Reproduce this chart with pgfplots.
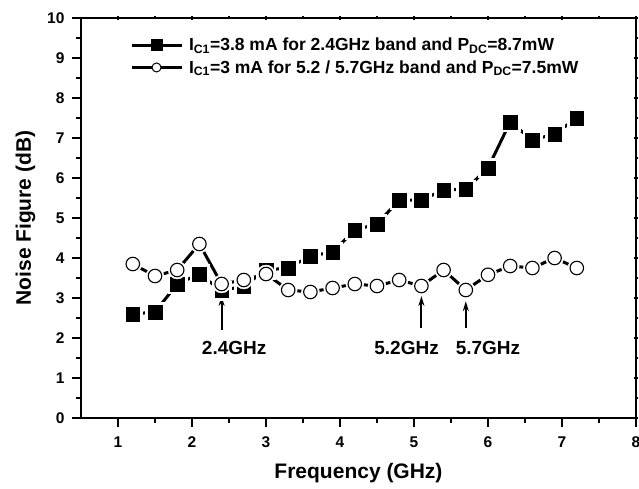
\documentclass[border=0pt]{standalone}
\usepackage{pgfplots}
\pgfplotsset{compat=1.18}
\usepackage{pgfplotstable}
\usepackage{fontspec}
\setmainfont{Liberation Sans}
\usetikzlibrary{arrows.meta}
\pgfplotstableread{
x y
1.2 2.60
1.5 2.65
1.8 3.35
2.1 3.60
2.4 3.18
2.7 3.30
3.0 3.70
3.3 3.75
3.6 4.05
3.9 4.15
4.2 4.70
4.5 4.85
4.8 5.45
5.1 5.45
5.4 5.70
5.7 5.72
6.0 6.25
6.3 7.40
6.6 6.95
6.9 7.10
7.2 7.50
}\sqdata
\pgfplotstableread{
x y
1.2 3.85
1.5 3.55
1.8 3.70
2.1 4.35
2.4 3.35
2.7 3.45
3.0 3.60
3.3 3.20
3.6 3.15
3.9 3.25
4.2 3.35
4.5 3.30
4.8 3.45
5.1 3.30
5.4 3.70
5.7 3.20
6.0 3.58
6.3 3.80
6.6 3.75
6.9 4.00
7.2 3.75
}\cidata
\begin{document}
\begin{tikzpicture}
\begin{axis}[name=ax,
  scale only axis, width=555pt, height=400pt,
  xmin=0.5, xmax=8, ymin=0, ymax=10,
  xtick={1,2,3,4,5,6,7,8}, ytick={0,1,2,3,4,5,6,7,8,9,10},
  minor x tick num=1, minor y tick num=1,
  xtick pos=left, ytick pos=left,
  tick align=outside,
  major tick length=9pt, minor tick length=5pt,
  axis line style={line width=2.4pt},
  every tick/.style={black, line width=2.4pt},
  /pgf/number format/assume math mode=true,
  tick label style={font=\bfseries\fontsize{15.5}{15.5}\selectfont},
  xticklabel style={yshift=-6pt},
  yticklabel style={xshift=-4pt},
  xlabel={\bfseries Frequency (GHz)},
  ylabel={\bfseries Noise Figure (dB)},
  label style={font=\bfseries\fontsize{21}{21}\selectfont},
  xlabel style={yshift=-9pt},
  ylabel style={yshift=5pt},
  legend style={draw=none, fill=none, at={(rel axis cs:0.088,0.955)}, anchor=north west,
    font=\bfseries\fontsize{17.5}{21}\selectfont, row sep=4pt, inner sep=0pt,
    nodes={inner xsep=6pt}},
  legend image code/.code={\draw[mark repeat=2, mark phase=2, #1] plot coordinates {(0pt,0pt) (25pt,0pt) (50pt,0pt)};},
  legend cell align=left,
  clip=false,
]
\addlegendimage{black, line width=3pt, mark=square*, mark size=4.5pt, mark options={solid}}
\addlegendentry{I\textsubscript{C1}=3.8 mA for 2.4GHz band and P\textsubscript{DC}=8.7mW}
\addlegendimage{black, line width=3pt, mark=*, mark size=4.5pt, mark options={solid, fill=white, line width=1pt}}
\addlegendentry{I\textsubscript{C1}=3 mA for 5.2 / 5.7GHz band and P\textsubscript{DC}=7.5mW}
% squares
\addplot[black, line width=3pt, forget plot] table {\sqdata};
\addplot[only marks, mark=square*, mark size=9.5pt, white, forget plot] table {\sqdata};
\addplot[only marks, mark=square*, mark size=6.75pt, black, forget plot] table {\sqdata};
% circles
\addplot[black, line width=3pt, forget plot] table {\cidata};
\addplot[only marks, mark=*, mark size=9pt, white, forget plot] table {\cidata};
\addplot[only marks, mark=*, mark size=6.75pt, mark options={draw=black, fill=white, line width=1.1pt}, forget plot] table {\cidata};
% annotations
\draw[line width=2pt, -{Stealth[length=10pt, width=6pt]}] (axis cs:2.4,2.2) -- (axis cs:2.4,3.05);
\draw[line width=2pt, -{Stealth[length=10pt, width=6pt]}] (axis cs:5.1,2.25) -- (axis cs:5.1,3.05);
\draw[line width=2pt, -{Stealth[length=10pt, width=6pt]}] (axis cs:5.7,2.25) -- (axis cs:5.7,2.92);
\node[font=\bfseries\fontsize{19}{19}\selectfont] at (axis cs:2.57,1.75) {2.4GHz};
\node[font=\bfseries\fontsize{19}{19}\selectfont] at (axis cs:4.9,1.75) {5.2GHz};
\node[font=\bfseries\fontsize{19}{19}\selectfont] at (axis cs:6.0,1.75) {5.7GHz};
\end{axis}
\begin{axis}[
  scale only axis, width=555pt, height=400pt,
  xmin=0.5, xmax=8, ymin=0, ymax=10,
  xtick={1,2,3,4,5,6,7,8}, ytick={0,1,2,3,4,5,6,7,8,9,10},
  minor x tick num=1, minor y tick num=1,
  xtick pos=right, ytick pos=right,
  xticklabels={}, yticklabels={},
  tick align=center,
  major tick length=4pt, minor tick length=3pt,
  axis line style={draw=none},
  every tick/.style={black, line width=1.5pt},
]
\addplot[draw=none] coordinates {(1,1)};
\end{axis}
\pgfresetboundingbox
\path (ax.south west) ++(-81pt,-70pt) coordinate (bl);
\path (ax.north east) ++(3pt,18pt) coordinate (tr);
\path[use as bounding box] (bl) rectangle (tr);
\end{tikzpicture}
\end{document}
